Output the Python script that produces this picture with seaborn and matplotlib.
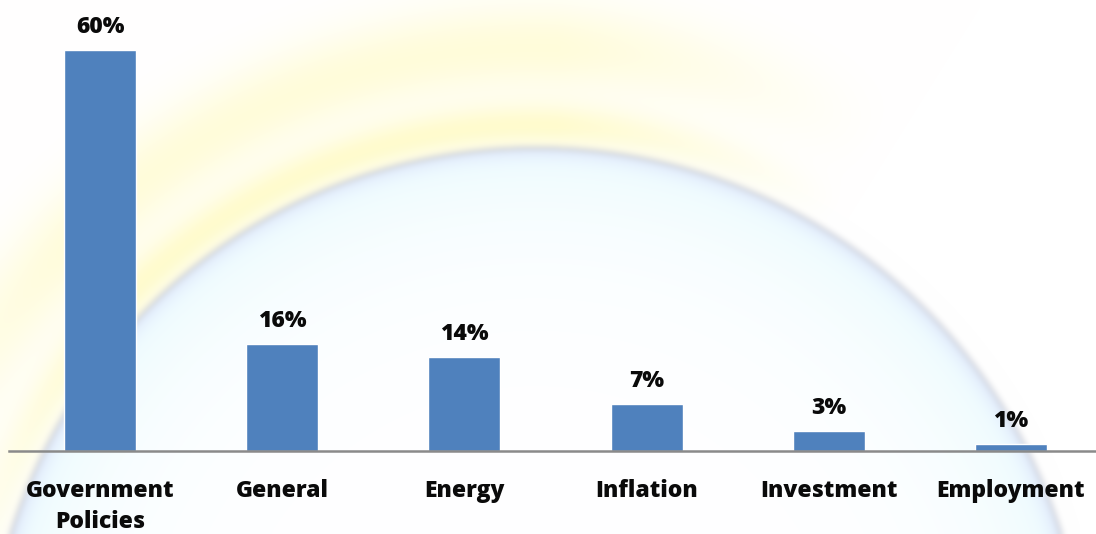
import numpy as np
import pandas as pd
import seaborn as sns
import matplotlib.pyplot as plt

# Survey shares by topic
categories = ["Government\nPolicies", "General", "Energy", "Inflation", "Investment", "Employment"]
shares = [60, 16, 14, 7, 3, 1]
value_labels = ["60%", "16%", "14%", "7%", "3%", "1%"]

W, H = 1096, 534
BAR_COLOR = "#4F81BD"

sns.set_theme(style="white")
plt.rcParams["font.family"] = ["Open Sans", "DejaVu Sans"]

fig = plt.figure(figsize=(W / 100, H / 100), dpi=100)


def soft_backdrop(w, h):
    """Pale arc backdrop: yellow halo around a light blue dome with a thin grey rim."""
    yy, xx = np.mgrid[0:h, 0:w] + 0.5
    cx, cy, r = 536.0, 698.0, 550.0
    d = np.hypot(xx - cx, yy - cy)
    theta = np.degrees(np.arctan2(cy - yy, xx - cx))
    out = d - r
    img = np.ones((h, w, 3))

    def blend(color, strength):
        nonlocal img
        s = np.clip(strength, 0, 1)[..., None]
        img = img * (1 - s) + np.array(color)[None, None, :] * s

    # yellow halo, strongest over the upper left, fading to the right
    ang = np.clip((theta - 58) / 30, 0, 1) * np.clip((175 - theta) / 40, 0, 1)
    halo = np.where(out > 0,
                    0.26 * np.exp(-((out - 100) / 45) ** 2)
                    + 0.34 * np.exp(-((out - 22) / 22) ** 2), 0)
    blend((1.0, 0.96, 0.45), halo * ang)

    # light cyan inside the dome, lavender just under the rim
    inside = np.maximum(-out, 0)
    blend((0.86, 0.97, 1.0), np.where(out < 0, 0.55 * np.exp(-inside / 80), 0))
    blend((0.82, 0.82, 0.97), np.where(out < 0, 0.35 * np.exp(-(inside / 12) ** 2), 0))

    # grey rim
    blend((0.58, 0.58, 0.62), 0.40 * np.exp(-(out / 2.0) ** 2))

    # soften
    k = np.exp(-0.5 * (np.arange(-8, 9) / 3.0) ** 2)
    k /= k.sum()
    for c in range(3):
        ch = img[..., c]
        ch = np.apply_along_axis(lambda v: np.convolve(np.pad(v, 8, mode="edge"), k, "valid"), 1, ch)
        ch = np.apply_along_axis(lambda v: np.convolve(np.pad(v, 8, mode="edge"), k, "valid"), 0, ch)
        img[..., c] = ch
    return np.clip(img, 0, 1)


bg = fig.add_axes([0, 0, 1, 1])
bg.imshow(soft_backdrop(W, H), aspect="auto", interpolation="bilinear")
bg.axis("off")
bg.set_zorder(-1)

ax = fig.add_axes([9 / W, 1 - 451 / H, 1093 / W, 451 / H])
ax.patch.set_alpha(0)

df = pd.DataFrame({"category": categories, "share": shares})
sns.barplot(data=df, x="category", y="share", color=BAR_COLOR, saturation=1,
            width=0.395, ax=ax)

ax.set_xlim(-0.5, len(categories) - 0.5)
ax.set_ylim(0, 67.5)
ax.bar_label(ax.containers[0], labels=value_labels, padding=8,
             fontsize=16.5, fontweight=800, color="#0a0a0a")

for side in ("top", "right", "left"):
    ax.spines[side].set_visible(False)
ax.spines["bottom"].set_color("#8a8a8a")
ax.spines["bottom"].set_linewidth(1.8)
ax.set_yticks([])
ax.set_xlabel("")
ax.set_ylabel("")
ax.tick_params(axis="x", length=0, pad=20, labelsize=16.5, labelcolor="#0a0a0a")
for lbl in ax.get_xticklabels():
    lbl.set_fontweight(800)
    lbl.set_linespacing(1.4)

fig.savefig("out.png", dpi=100)
